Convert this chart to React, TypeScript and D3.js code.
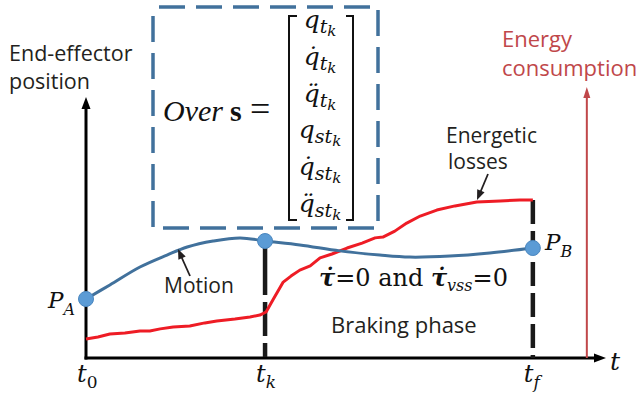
import React from 'react';
import * as d3 from 'd3';

const W = 641;
const H = 402;

// time instants on the horizontal axis (same units as the curves)
const tickSubs = ['0', 'k', 'f'];
const tickTimes = [0, 34.5, 86.1];
const energyAxisT = 96.5;

// end-effector position (blue)
const motionT = [0, 4.6, 10.4, 15.6, 19.5, 24.5, 29.7, 34.5, 41.2, 48.9, 56.6, 62.4, 70.1, 77.8, 86.1];
const motionPos = [22.7, 28.1, 35.0, 39.6, 42.7, 45.0, 46.2, 45.0, 43.5, 41.2, 39.6, 38.8, 39.2, 40.4, 42.3];

// energy consumption (red), noisy measured trace
const energyT = [0, 2.3, 4.6, 7.5, 10.4, 12.3, 14.3, 16.8, 20.0, 22.9, 25.2, 28.7, 31.6, 33.5, 34.7, 36.0, 38.0, 39.5, 41.2, 43.2, 45.1, 47.4, 50.3, 53.2, 55.7, 57.2, 59.5, 61.8, 64.4, 67.6, 71.1, 75.3, 79.8, 83.6, 86.1];
const energyVal = [7.3, 8.1, 9.2, 9.6, 10.4, 10.4, 11.2, 11.9, 12.3, 13.5, 14.2, 15.0, 15.8, 16.5, 17.7, 22.3, 29.2, 31.5, 33.8, 35.4, 38.5, 40.0, 42.3, 44.2, 46.2, 46.5, 48.8, 51.9, 54.6, 56.9, 58.5, 60.0, 60.4, 60.8, 60.8];

// state vector rows: accent over q, subscript
const rowAccents = ['', '\u0307', '\u0308', '', '\u0307', '\u0308'];
const rowSubs = ['t', 't', 't', 'st', 'st', 'st'];

const BLUE = '#41719c';
const DOT = '#5b9bd5';
const RED = '#ee1c25';
const DARKRED = '#c0474a';
const INK = '#231f20';
const SANS = '"Open Sans", "Noto Sans", sans-serif';
const SERIF = '"DejaVu Serif", serif';
const TIMES = '"Liberation Serif", serif';

const x = d3.scaleLinear().domain([0, 100]).range([86, 605]);
const y = d3.scaleLinear().domain([0, 100]).range([358, 98]);

function head(tx: number, ty: number, fx: number, fy: number, len: number, wid: number) {
  // triangle with tip at (tx,ty) pointing away from (fx,fy)
  const a = Math.atan2(ty - fy, tx - fx);
  const bx = tx - len * Math.cos(a);
  const by = ty - len * Math.sin(a);
  const px = (wid / 2) * Math.sin(a);
  const py = (wid / 2) * Math.cos(a);
  return `${tx},${ty} ${bx + px},${by - py} ${bx - px},${by + py}`;
}

export default function App() {
  const motion = motionT.map((t, i) => [t, motionPos[i]] as [number, number]);
  const energy = energyT.map((t, i) => [t, energyVal[i]] as [number, number]);

  const motionLine = d3.line<[number, number]>()
    .x(d => x(d[0]))
    .y(d => y(d[1]))
    .curve(d3.curveCatmullRom.alpha(0.5));
  const energyLine = d3.line<[number, number]>()
    .x(d => x(d[0]))
    .y(d => y(d[1]))
    .curve(d3.curveLinear);

  const pA = motion[0];
  const pK = motion[motionT.indexOf(tickTimes[1])];
  const pB = motion[motion.length - 1];
  const eEnd = energy[energy.length - 1];

  const x0 = x(0), y0 = y(0);
  const ex = x(energyAxisT);

  return (
    <svg width={W} height={H} style={{ position: 'absolute', left: 0, top: 0, background: '#fff' }}>
      {/* formula box */}
      <rect x={153} y={7} width={225} height={221} fill="none" stroke={BLUE}
        strokeWidth={3.5} strokeDasharray="26 11" strokeDashoffset={-6} />
      <text x={163} y={121} fontFamily={TIMES} fontSize={30} fontStyle="italic" fill="#111">Over</text>
      <text x={230} y={121} fontFamily={TIMES} fontSize={30} fontWeight="bold" fill="#111">s</text>
      <text x={250} y={121} fontFamily={TIMES} fontSize={36} fill="#111">=</text>
      <path d="M297,16 H289 V220 H297" fill="none" stroke="#111" strokeWidth={2} />
      <path d="M346,16 H353 V220 H346" fill="none" stroke="#111" strokeWidth={2} />
      {rowSubs.map((s, i) => (
        <text key={i} x={320} y={28 + i * 36.8} fontFamily={SERIF} fontStyle="italic"
          fontSize={25} textAnchor="middle" fill="#111">
          {'q' + rowAccents[i]}
          <tspan fontSize={19} dy={5}>{s}</tspan>
          <tspan fontSize={15} dy={3}>k</tspan>
        </text>
      ))}

      {/* axes */}
      <line x1={x0} y1={y0 + 1.5} x2={x0} y2={y(100) + 8} stroke="#000" strokeWidth={3} />
      <polygon points={head(x0, 97, x0, 200, 12, 9)} fill="#000" />
      <line x1={x0 - 1.5} y1={y0} x2={x(100) - 8} y2={y0} stroke="#000" strokeWidth={3} />
      <polygon points={head(606, y0, 500, y0, 12, 9)} fill="#000" />
      <line x1={ex} y1={y0} x2={ex} y2={96} stroke={DARKRED} strokeWidth={2} />
      <polygon points={head(ex, 87, ex, 200, 11, 7)} fill={DARKRED} />

      {/* phase boundaries */}
      <line x1={x(tickTimes[1])} y1={y(pK[1])} x2={x(tickTimes[1])} y2={y0} stroke="#1a1a1a"
        strokeWidth={4.5} strokeDasharray="54 7 34 7 14 6" />
      <line x1={x(tickTimes[2])} y1={y(eEnd[1])} x2={x(tickTimes[2])} y2={y0} stroke="#1a1a1a"
        strokeWidth={4.5} strokeDasharray="24 7" />

      {/* curves */}
      <path d={energyLine(energy) ?? ''} fill="none" stroke={RED} strokeWidth={3} strokeLinejoin="round" />
      <path d={motionLine(motion) ?? ''} fill="none" stroke={BLUE} strokeWidth={3} />
      {[pA, pK, pB].map((p, i) => (
        <circle key={i} cx={x(p[0])} cy={y(p[1])} r={7.5} fill={DOT} stroke="#4a86bf" strokeWidth={1} />
      ))}

      {/* axis labels */}
      <text x={9} y={61} fontFamily={SANS} fontSize={21.5} fill={INK}>End-effector</text>
      <text x={9} y={89} fontFamily={SANS} fontSize={21.5} fill={INK}>position</text>
      <text fontFamily={SANS} fontSize={22} fill={DARKRED}>
        <tspan x={502} y={47}>Energy</tspan>
        <tspan x={502} y={76}>consumption</tspan>
      </text>
      <text x={610} y={370} fontFamily={SERIF} fontSize={25} fontStyle="italic" fill="#111">t</text>
      {tickTimes.map((t, i) => (
        <text key={i} x={x(t) - 9} y={382} fontFamily={SERIF} fontSize={24} fontStyle="italic" fill="#111">
          t<tspan fontSize={17} dy={6} fontStyle={i === 0 ? 'normal' : 'italic'}>{tickSubs[i]}</tspan>
        </text>
      ))}
      <text x={48} y={308} fontFamily={SERIF} fontSize={23} fontStyle="italic" fill="#111">
        P<tspan fontSize={16} dy={7}>A</tspan>
      </text>
      <text x={545} y={250} fontFamily={SERIF} fontSize={23} fontStyle="italic" fill="#111">
        P<tspan fontSize={16} dy={7}>B</tspan>
      </text>

      {/* annotations */}
      <text x={164} y={293} fontFamily={SANS} fontSize={21} fill={INK}>Motion</text>
      <line x1={190} y1={276} x2={181} y2={256} stroke={INK} strokeWidth={1.8} />
      <polygon points={head(178, 249, 190, 276, 10, 8)} fill={INK} />
      <text fontFamily={SANS} fontSize={21} fill={INK}>
        <tspan x={446} y={143}>Energetic</tspan>
        <tspan x={448} y={169}>losses</tspan>
      </text>
      <line x1={488} y1={174} x2={480} y2={193} stroke={INK} strokeWidth={1.8} />
      <polygon points={head(477, 200, 488, 174, 10, 8)} fill={INK} />
      <text x={331} y={333} fontFamily={SANS} fontSize={22} fill={INK}>Braking phase</text>
      <text x={319} y={286} fontFamily={SERIF} fontSize={24} fill="#111">
        <tspan fontWeight="bold" fontStyle="italic">{'\u03c4\u0307'}</tspan>
        <tspan>=0 and </tspan>
        <tspan fontWeight="bold" fontStyle="italic">{'\u03c4\u0307'}</tspan>
        <tspan fontSize={16} fontStyle="italic" dy={5}>vss</tspan>
        <tspan dy={-5}>=0</tspan>
      </text>
    </svg>
  );
}
